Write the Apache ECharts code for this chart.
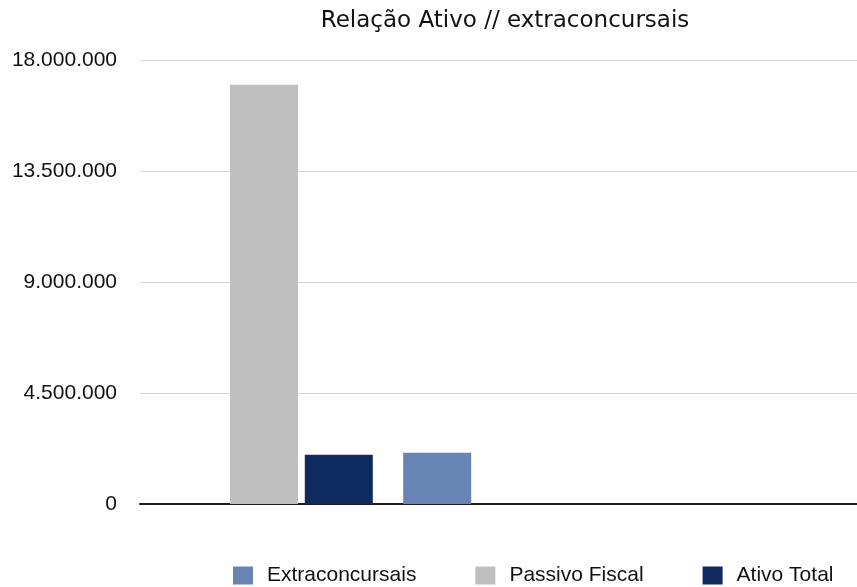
<!DOCTYPE html>
<html>
<head>
<meta charset="utf-8">
<title>Relação Ativo // extraconcursais</title>
<script src="https://cdn.jsdelivr.net/npm/echarts@6/dist/echarts.min.js"></script>
<style>
  html, body { margin: 0; padding: 0; background: #ffffff; }
  #chart { width: 857px; height: 587px; }
</style>
</head>
<body>
<div id="chart"></div>
<script>
// Category slots along the x axis (no visible labels)
const categories = ['', '', ''];

// Series values per slot (null = no bar in that slot)
const extraconcursais = [null, 2080000, null];
const passivoFiscal   = [17000000, null, null];
const ativoTotal      = [2000000, null, null];

// Y axis scale
const yMin = 0;
const yMax = 18000000;
const yStep = 4500000;

const seriesNames = ['Extraconcursais', 'Passivo Fiscal', 'Ativo Total'];
const seriesColors = ['#6784B4', '#BFBFBF', '#0E2A5F'];

const FONT = '"Liberation Sans", Arial, Helvetica, sans-serif';

function formatThousands(v) {
  return String(Math.round(v)).replace(/\B(?=(\d{3})+(?!\d))/g, '.');
}

const chart = echarts.init(document.getElementById('chart'), null, { renderer: 'canvas' });

const seriesData = [extraconcursais, passivoFiscal, ativoTotal];

chart.setOption({
  animation: false,
  backgroundColor: '#ffffff',
  title: {
    text: 'Relação Ativo // extraconcursais',
    left: 505,
    top: 10,
    padding: 0,
    textAlign: 'center',
    textStyle: {
      fontFamily: '"DejaVu Sans", sans-serif',
      fontSize: 23,
      fontWeight: 'normal',
      color: '#111111'
    }
  },
  legend: {
    data: seriesNames,
    left: 233,
    top: 565,
    icon: 'rect',
    itemWidth: 20,
    itemHeight: 18,
    itemGap: 59,
    padding: 0,
    textStyle: {
      fontFamily: FONT,
      fontSize: 21,
      color: '#111111',
      padding: [0, 0, 0, 9]
    }
  },
  // The plot runs on past the right edge of the canvas
  grid: {
    left: 140,
    top: 60,
    width: 744,
    height: 444,
    containLabel: false,
    outerBoundsMode: 'none'
  },
  xAxis: {
    type: 'category',
    data: categories,
    boundaryGap: true,
    axisTick: { show: false },
    axisLabel: { show: false },
    axisLine: { show: true, lineStyle: { color: '#1a1a1a', width: 2 } },
    splitLine: { show: false }
  },
  yAxis: {
    type: 'value',
    min: yMin,
    max: yMax,
    interval: yStep,
    axisLine: { show: false },
    axisTick: { show: false },
    axisLabel: {
      margin: 23,
      fontFamily: FONT,
      fontSize: 21,
      color: '#111111',
      formatter: formatThousands
    },
    splitLine: { show: true, lineStyle: { color: '#d4d4d4', width: 1 } }
  },
  series: seriesNames.map((name, i) => ({
    name: name,
    type: 'bar',
    data: seriesData[i],
    barWidth: 68,
    barGap: '10%',
    itemStyle: { color: seriesColors[i] }
  }))
});
</script>
</body>
</html>
